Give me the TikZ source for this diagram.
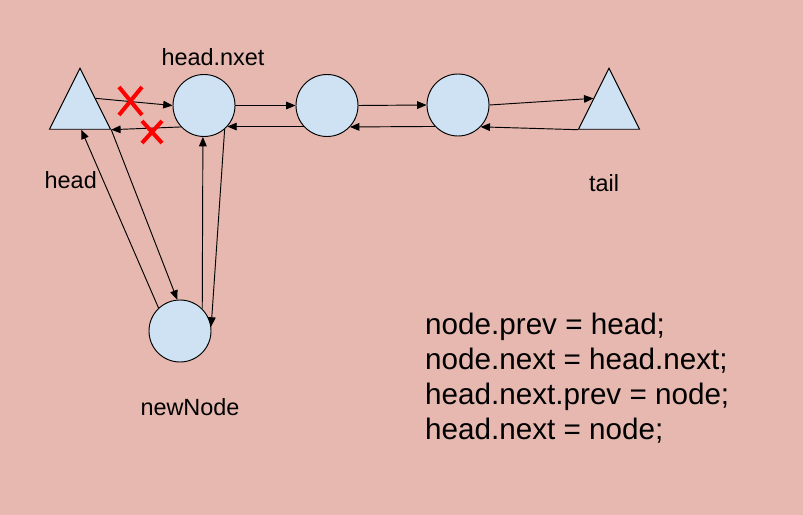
\documentclass[tikz,border=0pt]{standalone}
\usepackage{fontspec}
\setmainfont{Liberation Sans}
\usepackage{tikz}
\usetikzlibrary{arrows.meta,positioning,shapes.geometric,shapes.misc,calc}
\definecolor{bgpink}{HTML}{E6B8AF}
\definecolor{nodeblue}{HTML}{CFE2F3}
\tikzstyle{elem}=[draw=black, fill=nodeblue, line width=0.8pt, inner sep=0pt]
\tikzstyle{listnode}=[elem, circle, minimum size=1.86cm]
\tikzstyle{sentinel}=[elem, isosceles triangle, isosceles triangle stretches,
  shape border rotate=90, minimum width=1.83cm, minimum height=1.83cm, anchor=apex]
\tikzstyle{line}=[draw, line width=0.8pt, -{Triangle[length=0.28cm,width=0.23cm]}]
\tikzstyle{texto}=[font=\fontsize{20}{24}\selectfont, text=black]
\tikzstyle{code}=[font=\fontsize{25.3}{30}\selectfont, anchor=base west, inner sep=0pt]
\tikzstyle{cut}=[cross out, draw=red, line width=3.4pt, inner sep=0pt]

\begin{document}
\begin{tikzpicture}[x=0.03cm, y=-0.03cm]

  % Background
  \path[fill=bgpink, use as bounding box] (0,0) rectangle (803,515);

  % Draw list elements
  \node[sentinel] (head) at (80,67) {};
  \node[listnode] (n1) at (204,105.5) {};
  \node[listnode] (n2) at (327,105.5) {};
  \node[listnode] (n3) at (458,105) {};
  \node[sentinel] (tail) at (609,67) {};
  \node[listnode] (new) at (180,331) {};

  % Labels
  \path (n1.north)+(9,-16.5) node[texto] (lnext) {head.nxet};
  \path (head.left corner)+(22,50) node[texto] (lhead) {head};
  \path (tail.apex)+(-5,116) node[texto] (ltail) {tail};
  \path (new.south)+(10,45) node[texto] (lnew) {newNode};

  % Code
  \node[code] (c1) at (425,335) {node.prev = head;};
  \path (c1.base west)+(0,35) node[code] (c2) {node.next = head.next;};
  \path (c2.base west)+(0,35) node[code] (c3) {head.next.prev = node;};
  \path (c3.base west)+(0,35) node[code] (c4) {head.next = node;};

  % Draw arrows between elements
  \path [line] ($(head.apex)!0.5!(head.right corner)$) -- (n1.180);
  \path [line] (n1.223) -- (head.right corner);
  \path [line] (n1.0) -- (n2.180);
  \path [line] (n2.222) -- (n1.-42);
  \path [line] (n2.0) -- (n3.180);
  \path [line] (n3.223) -- (n2.-43);
  \path [line] (n3.0) -- ($(tail.apex)!0.5!(tail.left corner)$);
  \path [line] (tail.left corner) -- (n3.-44);
  \path [line] (head.right corner) -- (new.95);
  \path [line] (new.133) -- ($(head.left corner)!0.52!(head.right corner)$);
  \path [line] (new.45) -- (n1.268);
  \path [line] (n1.-49) -- (new.8);

  % Removed links
  \node[cut, minimum width=0.57cm, minimum height=0.72cm] (x1) at (130.5,101) {};
  \node[cut, minimum width=0.48cm, minimum height=0.54cm] (x2) at (152,132) {};

\end{tikzpicture}
\end{document}
